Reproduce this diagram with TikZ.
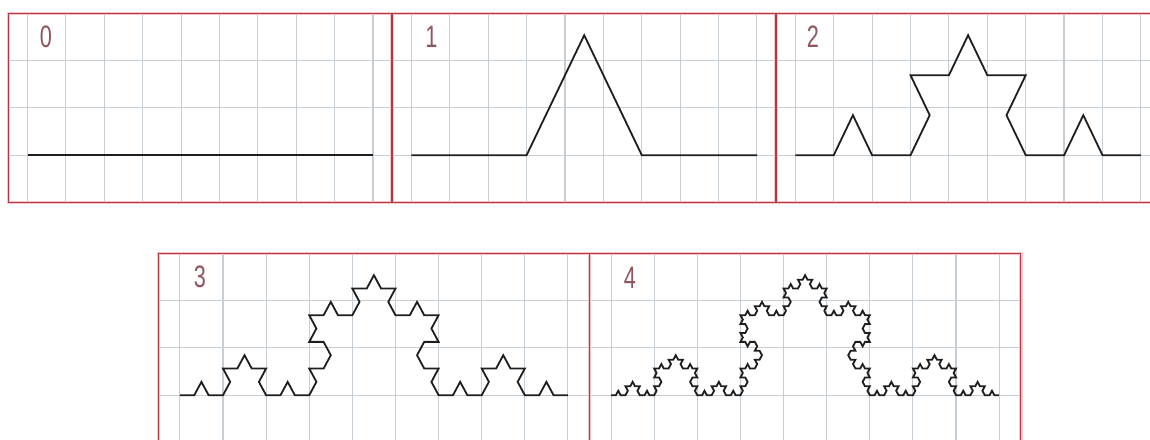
\documentclass[tikz,border=0pt]{standalone}
\usepackage{fontspec}
\setmainfont{Liberation Sans}
\definecolor{bordercol}{RGB}{185,55,65}
\definecolor{halocol}{RGB}{242,198,202}
\definecolor{gridcol}{RGB}{198,207,213}
\definecolor{curvecol}{RGB}{30,30,30}
\definecolor{labelcol}{RGB}{145,85,95}
\newcommand\kochcurve[4]{%
  \pgfmathtruncatemacro\kN{4^#1-1}%
  \pgfmathsetmacro\kS{#4/3^#1}%
  \pgfmathsetmacro\kT{120/(0.288675*3^#1)}%
  \begin{scope}[shift={(#2,#3)}, xscale=\kS, yscale=\kT]
    \draw[curve] (0,0) foreach \q in {0,...,\kN} { -- ++({-ka(\q)}:1) };
  \end{scope}}
\begin{document}
\begin{tikzpicture}[x=1pt,y=-1pt,
  declare function={kt(\d)=60*(\d==1)-60*(\d==2);
    ka(\n)=kt(mod(\n,4))+kt(mod(floor(\n/4),4))+kt(mod(floor(\n/16),4))+kt(mod(floor(\n/64),4));},
  gridline/.style={draw=gridcol, line width=1.1pt},
  halo/.style={draw=halocol, line width=3.6pt},
  frame/.style={draw=bordercol, line width=1.5pt},
  curve/.style={draw=curvecol, line width=1.8pt, line join=miter},
  lab/.style={text=labelcol, font=\fontsize{31}{31}\selectfont, xscale=0.7, inner sep=0pt}]
\useasboundingbox (0,0) rectangle (1150,439);
\fill[white] (0,0) rectangle (1150,439);
% top grid
\foreach \L in {8.3,392.2,776.1}{
  \foreach \i in {0,...,9}
    \draw[gridline] (\L+19.2+38.39*\i,13.3) -- (\L+19.2+38.39*\i,202.5);
}
\foreach \j in {1,2,3}
  \draw[gridline] (8.3,13.3+47.3*\j) -- (1160,13.3+47.3*\j);
% bottom grid
\foreach \L in {158.3,589.5}{
  \foreach \i in {0,...,9}
    \draw[gridline] (\L+21.56+43.12*\i,253.3) -- (\L+21.56+43.12*\i,442.5);
}
\foreach \j in {1,2,3}
  \draw[gridline] (158.3,253.3+47.3*\j) -- (1020.7,253.3+47.3*\j);
% frames
\draw[halo] (8.3,13.3) rectangle (1160,202.5);
\draw[halo] (392.2,13.3) -- (392.2,202.5);
\draw[halo] (776.1,13.3) -- (776.1,202.5);
\draw[halo] (158.3,253.3) rectangle (1020.7,442.5);
\draw[halo] (589.5,253.3) -- (589.5,442.5);
\draw[frame] (8.3,13.3) rectangle (1160,202.5);
\draw[frame] (392.2,13.3) -- (392.2,202.5);
\draw[frame] (776.1,13.3) -- (776.1,202.5);
\draw[frame] (158.3,253.3) rectangle (1020.7,442.5);
\draw[frame] (589.5,253.3) -- (589.5,442.5);
% curves
\draw[curve] (27.5,155.2) -- (373.1,155.2);
\kochcurve{1}{411.4}{155.2}{345.6}
\kochcurve{2}{795.3}{155.2}{345.6}
\kochcurve{3}{179.86}{395.2}{388.1}
\kochcurve{4}{611.06}{395.2}{388.1}
% labels
\node[lab] (l0) at (46,37) {0};
\node[lab] (l1) at (431.5,37) {1};
\node[lab] (l2) at (813,37) {2};
\node[lab] (l3) at (200,277) {3};
\node[lab] (l4) at (630,278) {4};
\end{tikzpicture}
\end{document}
